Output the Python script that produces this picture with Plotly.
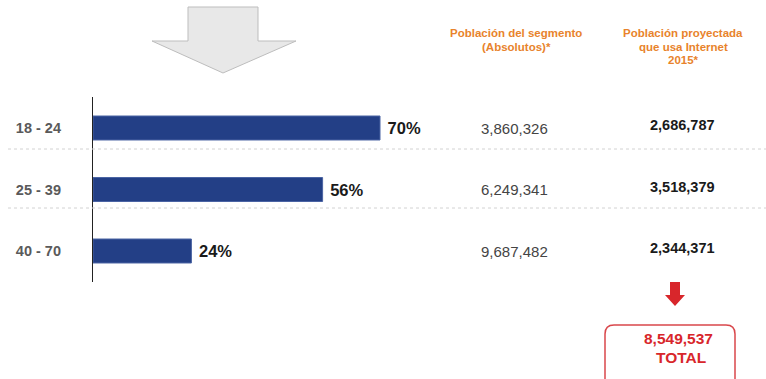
import plotly.graph_objects as go

W, H = 766, 379

# ---- data ----
age_groups = ["18 - 24", "25 - 39", "40 - 70"]
internet_pct = [70, 56, 24]
segment_population = ["3,860,326", "6,249,341", "9,687,482"]
projected_internet_users = ["2,686,787", "3,518,379", "2,344,371"]
total_value = "8,549,537"
total_word = "TOTAL"
header_col2 = ["Población del segmento", "(Absolutos)*"]
header_col3 = ["Población proyectada", "que usa Internet", "2015*"]

FONT = "Liberation Sans, Arial, Helvetica, sans-serif"
NAVY = "#233f86"
ORANGE = "#e8832c"
RED = "#d8262b"


def px(x):
    return x / W


def py(y):
    return 1 - y / H


fig = go.Figure()
fig.add_trace(go.Bar(
    x=internet_pct,
    y=age_groups,
    orientation="h",
    width=0.39,
    marker=dict(color=NAVY, line=dict(color="#4a64a3", width=1)),
    text=[f"\u00a0<b>{v}%</b>" for v in internet_pct],
    textposition="outside",
    textfont=dict(family=FONT, size=16.5, color="#1a1a1a"),
    cliponaxis=False,
    hoverinfo="skip",
))

shapes = []
# dotted separators
for yy in (149, 208):
    shapes.append(dict(type="line", xref="paper", yref="paper",
                       x0=px(8), x1=1, y0=py(yy), y1=py(yy),
                       line=dict(color="#d2d2d2", width=1, dash="dot")))

# big gray arrow
pts = [(188, 7), (258, 7), (258, 41), (296, 41), (223, 73), (152, 41), (188, 41)]
path = "M " + " L ".join(f"{px(x)},{py(y)}" for x, y in pts) + " Z"
shapes.append(dict(type="path", xref="paper", yref="paper", path=path,
                   fillcolor="#e8e8e8", line=dict(color="#bdbdbd", width=1)))

# red arrow
rpts = [(670, 282), (680, 282), (680, 295), (685, 295), (675, 306), (665, 295), (670, 295)]
rpath = "M " + " L ".join(f"{px(x)},{py(y)}" for x, y in rpts) + " Z"
shapes.append(dict(type="path", xref="paper", yref="paper", path=rpath,
                   fillcolor=RED, line=dict(color=RED, width=0)))

# rounded total box
x0, x1, y0, y1, r = 605, 735, 325, 385, 9
bpath = (f"M {px(x0 + r)},{py(y0)} L {px(x1 - r)},{py(y0)} "
         f"Q {px(x1)},{py(y0)} {px(x1)},{py(y0 + r)} "
         f"L {px(x1)},{py(y1)} L {px(x0)},{py(y1)} "
         f"L {px(x0)},{py(y0 + r)} Q {px(x0)},{py(y0)} {px(x0 + r)},{py(y0)} Z")
shapes.append(dict(type="path", xref="paper", yref="paper", path=bpath,
                   fillcolor="rgba(0,0,0,0)", line=dict(color="#d9474b", width=1.5)))

annotations = []
for g, a, b in zip(age_groups, segment_population, projected_internet_users):
    annotations.append(dict(x=px(514), xref="paper", y=g, yref="y", text=a,
                            showarrow=False, xanchor="center", yanchor="middle",
                            font=dict(family=FONT, size=15, color="#444444")))
    annotations.append(dict(x=px(682), xref="paper", y=g, yref="y", text=f"<b>{b}</b>",
                            showarrow=False, xanchor="center", yanchor="middle", yshift=3,
                            font=dict(family=FONT, size=14.5, color="#1a1a1a")))

for line, yy in zip(header_col2, (33.5, 46.5)):
    annotations.append(dict(x=px(516), xref="paper", y=py(yy), yref="paper",
                            text=f"<b>{line}</b>", showarrow=False,
                            xanchor="center", yanchor="middle",
                            font=dict(family=FONT, size=11.5, color=ORANGE)))
for line, yy in zip(header_col3, (33, 46.5, 60)):
    annotations.append(dict(x=px(683), xref="paper", y=py(yy), yref="paper",
                            text=f"<b>{line}</b>", showarrow=False,
                            xanchor="center", yanchor="middle",
                            font=dict(family=FONT, size=11.5, color=ORANGE)))
for line, yy, xx in ((total_value, 338, 678), (total_word, 357, 681)):
    annotations.append(dict(x=px(xx), xref="paper", y=py(yy), yref="paper",
                            text=f"<b>{line}</b>", showarrow=False,
                            xanchor="center", yanchor="middle",
                            font=dict(family=FONT, size=15.5, color=RED)))

fig.update_layout(
    width=W, height=H,
    margin=dict(l=0, r=0, t=0, b=0),
    paper_bgcolor="white", plot_bgcolor="white",
    showlegend=False,
    xaxis=dict(domain=[px(93), px(93 + 410)], range=[0, 100], visible=False, fixedrange=True),
    yaxis=dict(domain=[py(281.75), py(97.25)], categoryorder="array",
               categoryarray=age_groups, autorange=False, range=[2.5, -0.5],
               showline=True, linecolor="#222222", linewidth=1.2,
               showgrid=False, zeroline=False, ticks="",
               ticklabelstandoff=28,
               tickvals=age_groups,
               ticktext=[f"<b>{g}</b>" for g in age_groups],
               tickfont=dict(family=FONT, size=14.5, color="#5a5a5a"),
               fixedrange=True),
    shapes=shapes,
    annotations=annotations,
    bargap=0.6,
)

fig.write_html("out.html", config={"displayModeBar": False})
